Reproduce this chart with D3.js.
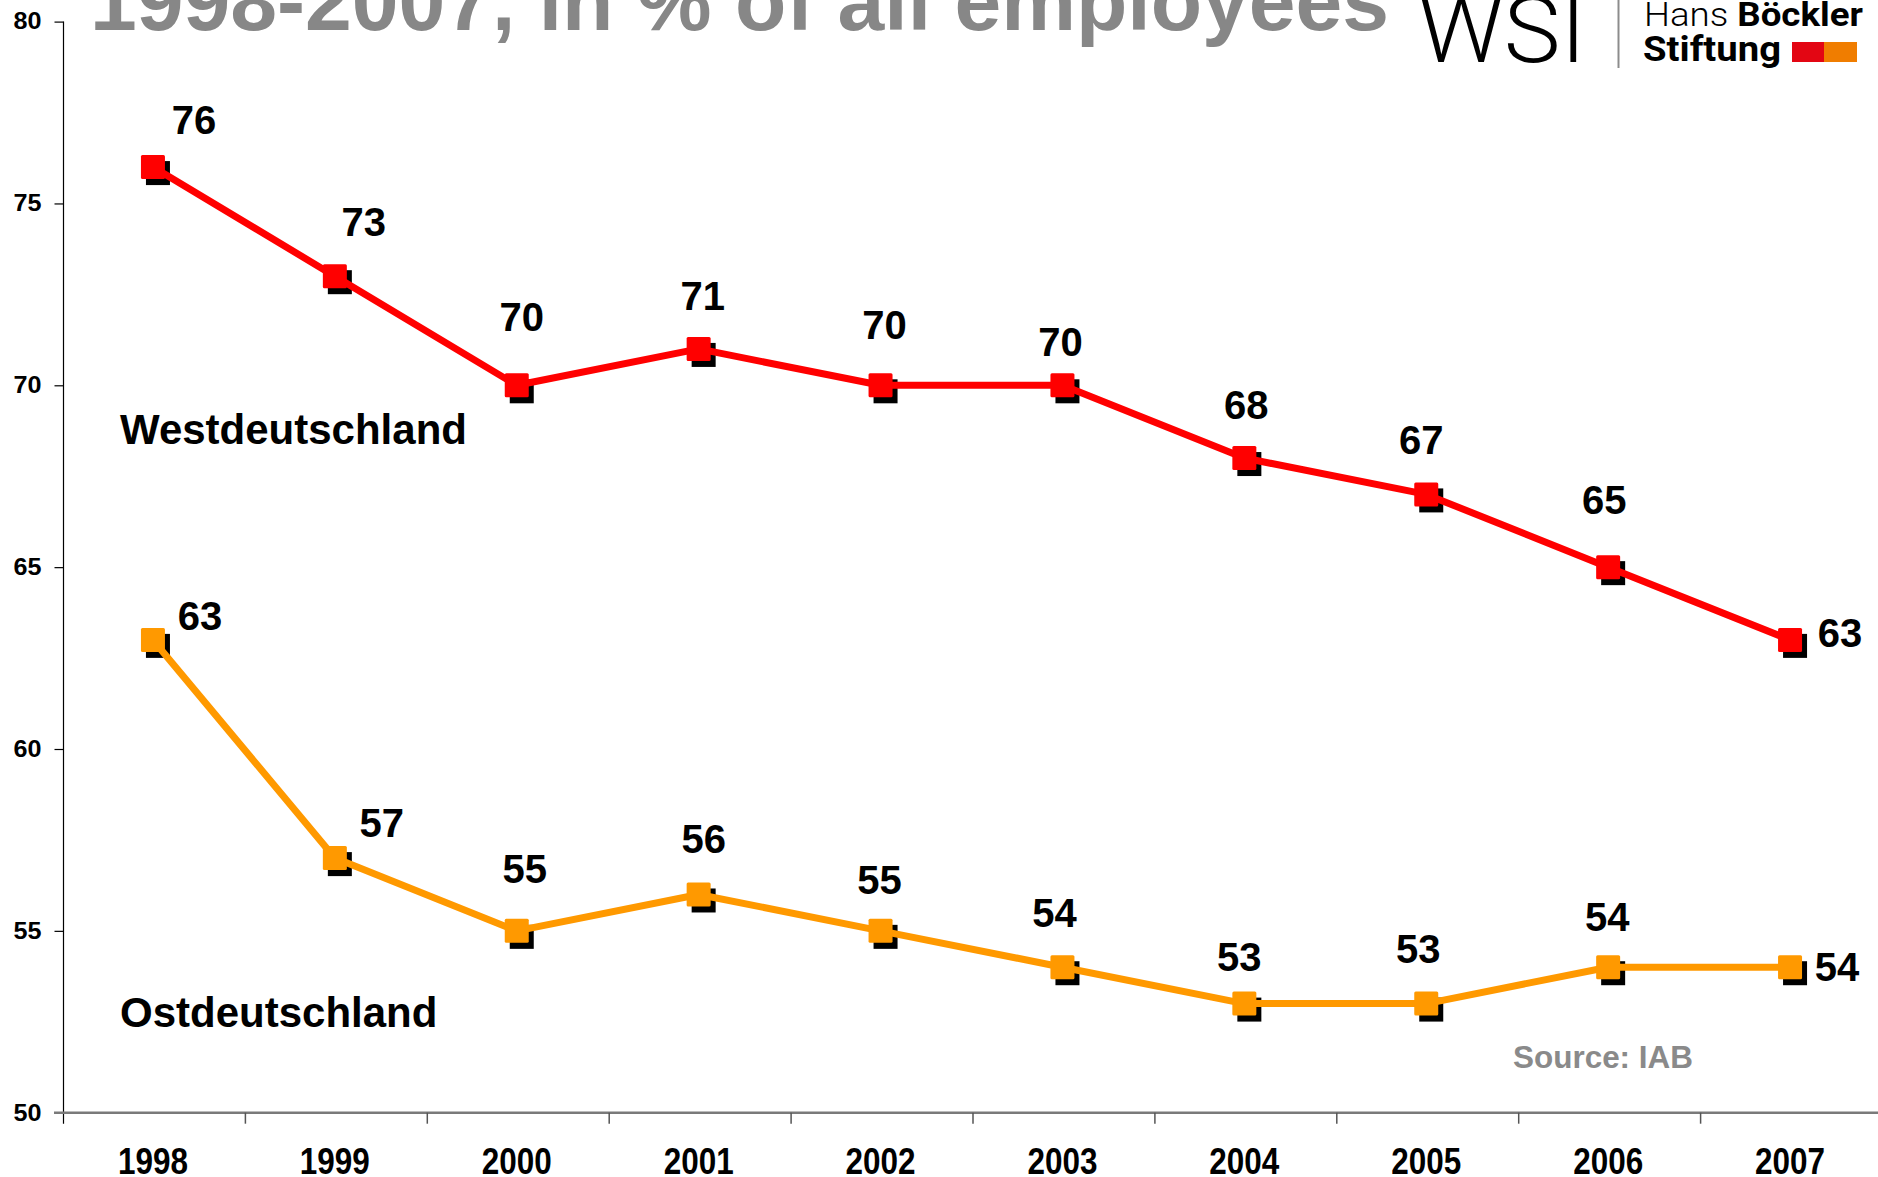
<!DOCTYPE html>
<html>
<head>
<meta charset="utf-8">
<script src="https://cdn.jsdelivr.net/npm/d3@7"></script>
<style>
  html, body { margin: 0; padding: 0; background: #fff; }
  svg { display: block; font-family: "Liberation Sans", Arial, sans-serif; }
</style>
</head>
<body>
<div id="chart"></div>
<script>
// data
var years = ["1998", "1999", "2000", "2001", "2002", "2003", "2004", "2005", "2006", "2007"];
var west = [76, 73, 70, 71, 70, 70, 68, 67, 65, 63];
var east = [63, 57, 55, 56, 55, 54, 53, 53, 54, 54];
var yTicks = [50, 55, 60, 65, 70, 75, 80];

// hand placed value labels (pixel nudges from the point)
var westNudge = [[41, -47], [29, -55], [5, -69], [4, -53], [4, -61], [-2, -44], [2, -53], [-5, -55], [-4, -68], [50, -7]];
var eastNudge = [[47, -24], [47, -36], [8, -62], [5, -56], [-1, -51], [-8, -55], [-5, -47], [-8, -55], [-1, -51], [47, -1]];

var width = 1878, height = 1177;

var svg = d3.select("#chart").append("svg")
    .attr("width", width)
    .attr("height", height);

var x = d3.scaleBand()
    .domain(years)
    .range([63.5, 63.5 + 10 * 181.9])
    .padding(0);

var y = d3.scaleLinear()
    .domain([50, 80])
    .range([1112.7, 21.6]);

// markers sit a hair left of the band centre in the original
function cx(i) { return x(years[i]) + x.bandwidth() / 2 - 1.5; }

// title, cut off at the top like in the original
svg.append("text")
    .attr("x", 90)
    .attr("y", 30)
    .attr("font-size", 84)
    .attr("font-weight", "bold")
    .attr("fill", "#878787")
    .attr("textLength", 1299)
    .attr("lengthAdjust", "spacingAndGlyphs")
    .text("1998-2007, in % of all employees");

// logo
var logo = svg.append("g");
logo.append("text")
    .attr("x", 1418).attr("y", 62)
    .attr("font-family", "Roboto, 'Open Sans', sans-serif")
    .attr("font-weight", 300)
    .attr("font-size", 92)
    .attr("fill", "#000")
    .attr("textLength", 168)
    .attr("lengthAdjust", "spacingAndGlyphs")
    .text("WSI");
logo.append("line")
    .attr("x1", 1618.5).attr("x2", 1618.5)
    .attr("y1", 0).attr("y2", 68)
    .attr("stroke", "#8c8c8c").attr("stroke-width", 2);
var hans = logo.append("text")
    .attr("x", 1644).attr("y", 26)
    .attr("font-family", "Roboto, 'Open Sans', sans-serif")
    .attr("font-size", 34)
    .attr("fill", "#000")
    .attr("textLength", 219)
    .attr("lengthAdjust", "spacingAndGlyphs");
hans.append("tspan").attr("font-weight", 300).text("Hans ");
hans.append("tspan").attr("font-weight", "bold").text("Böckler");
logo.append("text")
    .attr("x", 1643).attr("y", 61)
    .attr("font-family", "Roboto, 'Open Sans', sans-serif")
    .attr("font-size", 35)
    .attr("font-weight", "bold")
    .attr("fill", "#000")
    .attr("textLength", 138)
    .attr("lengthAdjust", "spacingAndGlyphs")
    .text("Stiftung");
logo.append("rect")
    .attr("x", 1792).attr("y", 42).attr("width", 32).attr("height", 20)
    .attr("fill", "#e30613");
logo.append("rect")
    .attr("x", 1824).attr("y", 42).attr("width", 33).attr("height", 20)
    .attr("fill", "#f07d00");

// y axis
var yAxis = svg.append("g")
    .attr("transform", "translate(63.5,0)")
    .call(d3.axisLeft(y).tickValues(yTicks).tickSize(9).tickPadding(13).tickFormat(d3.format("d")));
yAxis.select(".domain").attr("stroke", "#000").attr("stroke-width", 1.2)
    .attr("d", "M0," + y(80) + "V" + (y(50) + 11));
yAxis.selectAll(".tick line").attr("stroke", "#000").attr("stroke-width", 1.2);
yAxis.selectAll(".tick text")
    .attr("font-family", "'Liberation Sans', Arial, sans-serif")
    .attr("font-size", 23)
    .attr("font-weight", "bold")
    .attr("fill", "#000")
    .attr("textLength", 28)
    .attr("lengthAdjust", "spacingAndGlyphs");

// x axis (category boundaries as ticks)
var xAxisG = svg.append("g").attr("transform", "translate(0," + y(50) + ")");
xAxisG.append("line")
    .attr("x1", 54).attr("x2", width)
    .attr("y1", 0).attr("y2", 0)
    .attr("stroke", "#7a7a7a").attr("stroke-width", 2.5);
xAxisG.selectAll(".xtick")
    .data(years.slice(1))
    .enter().append("line")
    .attr("class", "xtick")
    .attr("x1", function(d) { return x(d); })
    .attr("x2", function(d) { return x(d); })
    .attr("y1", 0).attr("y2", 11)
    .attr("stroke", "#555").attr("stroke-width", 1.5);
xAxisG.selectAll(".xlabel")
    .data(years)
    .enter().append("text")
    .attr("class", "xlabel")
    .attr("x", function(d) { return x(d) + x.bandwidth() / 2 - 1.5; })
    .attr("y", 61)
    .attr("text-anchor", "middle")
    .attr("font-size", 36)
    .attr("font-weight", "bold")
    .attr("fill", "#000")
    .attr("textLength", 70)
    .attr("lengthAdjust", "spacingAndGlyphs")
    .text(function(d) { return d; });

// series
var line = d3.line()
    .x(function(d, i) { return cx(i); })
    .y(function(d) { return y(d); });

function drawSeries(values, color, nudge) {
    var g = svg.append("g");
    g.selectAll(".shadow")
        .data(values)
        .enter().append("rect")
        .attr("class", "shadow")
        .attr("x", function(d, i) { return cx(i) - 12 + 5; })
        .attr("y", function(d) { return y(d) - 12 + 6; })
        .attr("width", 24).attr("height", 24)
        .attr("fill", "#000");
    g.append("path")
        .datum(values)
        .attr("fill", "none")
        .attr("stroke", color)
        .attr("stroke-width", 7)
        .attr("stroke-linejoin", "round")
        .attr("d", line);
    g.selectAll(".marker")
        .data(values)
        .enter().append("rect")
        .attr("class", "marker")
        .attr("x", function(d, i) { return cx(i) - 12; })
        .attr("y", function(d) { return y(d) - 12; })
        .attr("width", 24).attr("height", 24)
        .attr("rx", 1.5)
        .attr("fill", color);
    g.selectAll(".val")
        .data(values)
        .enter().append("text")
        .attr("class", "val")
        .attr("x", function(d, i) { return cx(i) + nudge[i][0]; })
        .attr("y", function(d, i) { return y(d) + nudge[i][1]; })
        .attr("dy", "0.36em")
        .attr("text-anchor", "middle")
        .attr("font-size", 40)
        .attr("font-weight", "bold")
        .attr("fill", "#000")
        .text(function(d) { return d; });
}

drawSeries(west, "#ff0000", westNudge);
drawSeries(east, "#ff9900", eastNudge);

// series names
svg.append("text")
    .attr("x", 120).attr("y", 444)
    .attr("font-size", 42).attr("font-weight", "bold").attr("fill", "#000")
    .text("Westdeutschland");
svg.append("text")
    .attr("x", 120).attr("y", 1027)
    .attr("font-size", 42).attr("font-weight", "bold").attr("fill", "#000")
    .text("Ostdeutschland");

// source
svg.append("text")
    .attr("x", 1513).attr("y", 1068)
    .attr("font-size", 32).attr("font-weight", "bold").attr("fill", "#8a8a8a")
    .attr("textLength", 180)
    .attr("lengthAdjust", "spacingAndGlyphs")
    .text("Source: IAB");
</script>
</body>
</html>
